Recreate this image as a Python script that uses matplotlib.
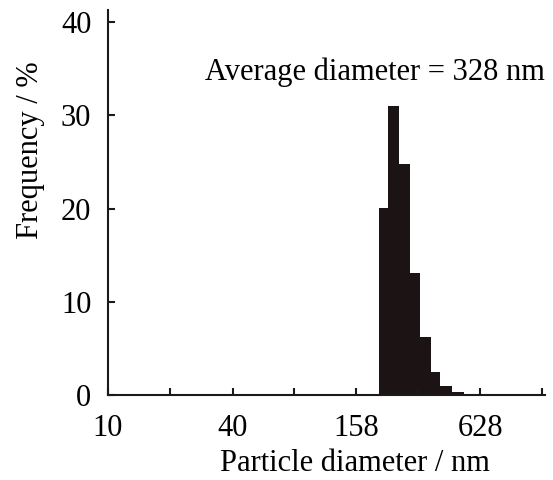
import matplotlib
matplotlib.use("Agg")
from matplotlib import pyplot as plt
from matplotlib.ticker import NullLocator

# bin edges (nm) and frequency (%)
bin_edges = [202.6, 224.8, 255.0, 288.0, 319.6, 362.8, 402.4, 458.4, 521.6]
freq = [20.1, 31.0, 24.8, 13.1, 6.25, 2.5, 0.97, 0.3]

x_ticks = [10, 20, 40, 79, 158, 315, 628, 1253]
x_tick_labels = ["10", "", "40", "", "158", "", "628", ""]
y_ticks = [0, 10, 20, 30, 40]

plt.rcParams['font.family'] = ['Liberation Serif', 'DejaVu Serif']

fig = plt.figure(figsize=(5.53, 4.80), dpi=100)
ax = fig.add_axes([108/553, 1 - 395/480, (545 - 108)/553, (395 - 10)/480])

lefts = bin_edges[:-1]
widths = [bin_edges[i+1] - bin_edges[i] for i in range(len(freq))]
ax.bar(lefts, freq, width=widths, align='edge', color='#1c1414', edgecolor='none')

ax.set_xscale('log')
ax.set_xlim(10, 1290)
ax.set_ylim(0, 41.3)
ax.set_xticks(x_ticks)
ax.set_xticklabels(x_tick_labels)
ax.xaxis.set_minor_locator(NullLocator())
ax.set_yticks(y_ticks)

for s in ['top', 'right']:
    ax.spines[s].set_visible(False)
for s in ['left', 'bottom']:
    ax.spines[s].set_linewidth(1.5)
    ax.spines[s].set_color('#1a1a1a')

ax.tick_params(direction='in', length=5, width=1.5, labelsize=22, color='#1a1a1a')
ax.tick_params(axis='x', pad=14)
ax.tick_params(axis='y', pad=12)

ax.set_xlabel('Particle diameter / nm', fontsize=22, va='center')
ax.xaxis.set_label_coords(0.565, -0.177)
fig.text(0.055, 1 - 150/480, 'Frequency / %', fontsize=22, rotation=90,
         ha='center', va='center')
fig.text(0.986, 1 - 72/480, 'Average diameter = 328 nm', fontsize=22,
         ha='right', va='center')

plt.savefig('out.png', dpi=100)
